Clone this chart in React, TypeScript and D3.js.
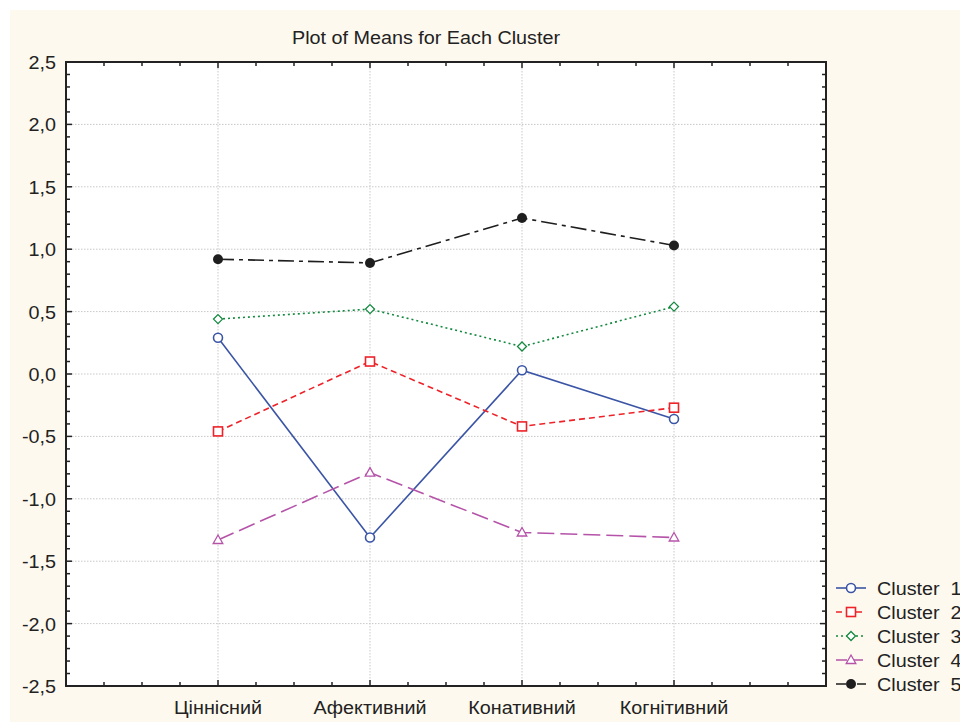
import * as d3 from 'd3'
import { FC, ReactNode } from 'react'

const WIDTH = 960
const HEIGHT = 722
const MARGIN = { top: 62, right: 134, bottom: 36, left: 66 }

const CATEGORIES = ['Ціннісний', 'Афективний', 'Конативний', 'Когнітивний']
const CLUSTER_NAMES = ['Cluster  1', 'Cluster  2', 'Cluster  3', 'Cluster  4', 'Cluster  5']
const CLUSTER_1 = [0.29, -1.31, 0.03, -0.36]
const CLUSTER_2 = [-0.46, 0.1, -0.42, -0.27]
const CLUSTER_3 = [0.44, 0.52, 0.22, 0.54]
const CLUSTER_4 = [-1.33, -0.79, -1.27, -1.31]
const CLUSTER_5 = [0.92, 0.89, 1.25, 1.03]
const Y_TICKS = [-2.5, -2, -1.5, -1, -0.5, 0, 0.5, 1, 1.5, 2, 2.5]

const STYLES = [
  { color: '#3b55a6', dash: 'none', legendDash: 'none', marker: 'circle' },
  { color: '#ee2229', dash: '6,4', legendDash: '6,4', marker: 'square' },
  { color: '#13893f', dash: '2,3', legendDash: '2,3', marker: 'diamond' },
  { color: '#b553a9', dash: '17,6', legendDash: '11,5', marker: 'triangle' },
  { color: '#1e1e1e', dash: '16,5,4,5', legendDash: '10,4,3,4', marker: 'dot' },
]

const FONT = '"Liberation Sans", Arial, sans-serif'
const FONT_SIZE = 17.5
// the reference text is a little stretched sideways
const STRETCH = 1.13

// Text drawn with a horizontal stretch
const Label: FC<{ x: number; y: number; anchor?: string; children: ReactNode }> = ({
  x,
  y,
  anchor = 'start',
  children,
}) => (
  <g transform={`translate(${x},${y}) scale(${STRETCH},1)`}>
    <text textAnchor={anchor} fontFamily={FONT} fontSize={FONT_SIZE} fill='#222' style={{ whiteSpace: 'pre' }}>
      {children}
    </text>
  </g>
)

const Marker: FC<{ kind: string; x: number; y: number; color: string }> = ({ kind, x, y, color }) => {
  if (kind === 'circle') return <circle cx={x} cy={y} r={4.5} fill='white' stroke={color} strokeWidth={1.6} />
  if (kind === 'square') return <rect x={x - 4.5} y={y - 4.5} width={9} height={9} fill='white' stroke={color} strokeWidth={1.6} />
  if (kind === 'diamond')
    return <path d={`M${x},${y - 4.5}L${x + 4.5},${y}L${x},${y + 4.5}L${x - 4.5},${y}Z`} fill='white' stroke={color} strokeWidth={1.3} />
  if (kind === 'triangle')
    return <path d={`M${x},${y - 5}L${x + 4.8},${y + 3.5}L${x - 4.8},${y + 3.5}Z`} fill='white' stroke={color} strokeWidth={1.3} />
  return <circle cx={x} cy={y} r={5} fill={color} />
}

const App: FC = () => {
  const boundsWidth = WIDTH - MARGIN.left - MARGIN.right
  const boundsHeight = HEIGHT - MARGIN.top - MARGIN.bottom

  const xScale = d3.scaleLinear().domain([0, 5]).range([0, boundsWidth])
  const yScale = d3.scaleLinear().domain([-2.5, 2.5]).range([boundsHeight, 0])

  const series = [CLUSTER_1, CLUSTER_2, CLUSTER_3, CLUSTER_4, CLUSTER_5]

  const line = d3
    .line<number>()
    .x((_, i) => xScale(i + 1))
    .y((d) => yScale(d))

  const xMinor = d3.range(0, 20).map((i) => i * 0.25)
  const yMinor = d3.range(-25, 26).map((i) => i / 10)

  return (
    <svg width={WIDTH} height={HEIGHT} style={{ position: 'absolute', left: 0, top: 0 }}>
      <rect x={10} y={10} width={WIDTH - 10} height={HEIGHT - 10} fill='#fef9ee' />
      <Label x={426} y={43.5} anchor='middle'>
        Plot of Means for Each Cluster
      </Label>
      <g transform={`translate(${MARGIN.left},${MARGIN.top})`}>
        <rect width={boundsWidth} height={boundsHeight} fill='white' />
        {/* grid */}
        {Y_TICKS.slice(1, -1).map((t) => (
          <line key={t} x1={0} x2={boundsWidth} y1={yScale(t)} y2={yScale(t)} stroke='#c8c8c8' strokeDasharray='1.5,1.5' />
        ))}
        {CATEGORIES.map((c, i) => (
          <line key={c} x1={xScale(i + 1)} x2={xScale(i + 1)} y1={0} y2={boundsHeight} stroke='#c8c8c8' strokeDasharray='1.5,1.5' />
        ))}
        {/* ticks, pointing inward */}
        {xMinor.map((t) => {
          const major = CATEGORIES.some((_, i) => i + 1 === t)
          const len = major ? 6 : 4
          return (
            <g key={t} stroke='#222' strokeWidth={1.5}>
              <line x1={xScale(t)} x2={xScale(t)} y1={boundsHeight} y2={boundsHeight - len} />
              <line x1={xScale(t)} x2={xScale(t)} y1={0} y2={len} />
            </g>
          )
        })}
        {yMinor.map((t) => {
          const major = Math.abs(t * 2 - Math.round(t * 2)) < 1e-6
          const len = major ? 6 : 4
          return (
            <g key={t} stroke='#222' strokeWidth={1.5}>
              <line x1={0} x2={len} y1={yScale(t)} y2={yScale(t)} />
              <line x1={boundsWidth} x2={boundsWidth - len} y1={yScale(t)} y2={yScale(t)} />
            </g>
          )
        })}
        <rect width={boundsWidth} height={boundsHeight} fill='none' stroke='#222' strokeWidth={2} />
        {/* tick labels */}
        {Y_TICKS.map((t) => (
          <Label key={t} x={-10} y={yScale(t) + 7} anchor='end'>
            {d3.format('.1f')(t).replace('.', ',').replace('−', '-')}
          </Label>
        ))}
        {CATEGORIES.map((c, i) => (
          <Label key={c} x={xScale(i + 1)} y={boundsHeight + 28} anchor='middle'>
            {c}
          </Label>
        ))}
        {/* series */}
        {series.map((values, s) => (
          <g key={s}>
            <path d={line(values) as string} fill='none' stroke={STYLES[s].color} strokeWidth={1.6} strokeDasharray={STYLES[s].dash} />
            {values.map((v, i) => (
              <Marker key={i} kind={STYLES[s].marker} x={xScale(i + 1)} y={yScale(v)} color={STYLES[s].color} />
            ))}
          </g>
        ))}
      </g>
      {/* legend */}
      <g transform='translate(836,588)'>
        {CLUSTER_NAMES.map((name, s) => (
          <g key={name} transform={`translate(0,${s * 24})`}>
            <line x1={0} x2={30} y1={0} y2={0} stroke={STYLES[s].color} strokeWidth={1.6} strokeDasharray={STYLES[s].legendDash} />
            <Marker kind={STYLES[s].marker} x={15} y={0} color={STYLES[s].color} />
            <Label x={41} y={6.5}>
              {name}
            </Label>
          </g>
        ))}
      </g>
    </svg>
  )
}

export default App
